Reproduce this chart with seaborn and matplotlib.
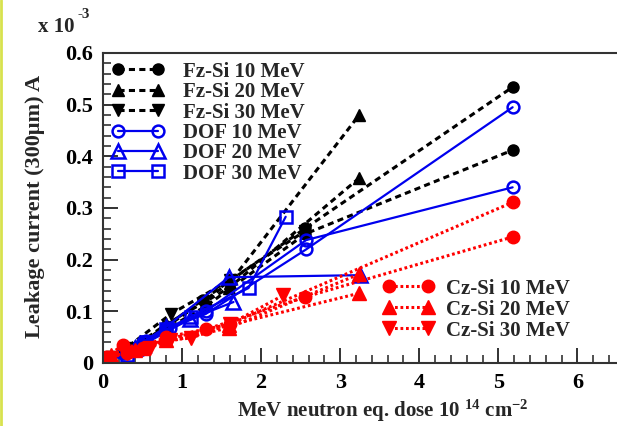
import matplotlib
matplotlib.use("Agg")
import matplotlib.pyplot as plt
import numpy as np
import pandas as pd
import seaborn as sns
from matplotlib.ticker import MultipleLocator
from matplotlib.lines import Line2D

# ---- measured leakage current (x 1e-3 A) versus 1 MeV neutron equivalent dose (1e14 cm^-2) ----
fz10_a_dose = [0.05, 0.25, 0.5, 0.8, 1.26, 2.56, 5.18]
fz10_a_curr = [0.010, 0.025, 0.040, 0.072, 0.122, 0.261, 0.534]
fz10_b_dose = [0.05, 0.25, 0.5, 0.8, 1.3, 2.56, 5.18]
fz10_b_curr = [0.008, 0.020, 0.035, 0.065, 0.110, 0.250, 0.412]

fz20_a_dose = [0.1, 0.4, 0.8, 1.6, 3.24]
fz20_a_curr = [0.010, 0.030, 0.070, 0.155, 0.480]
fz20_b_dose = [0.1, 0.4, 0.8, 1.59, 3.24]
fz20_b_curr = [0.012, 0.032, 0.075, 0.145, 0.358]

fz30_dose = [0.1, 0.3, 0.86, 1.6, 2.55]
fz30_curr = [0.012, 0.030, 0.095, 0.160, 0.255]

dof10_a_dose = [0.05, 0.25, 0.5, 0.8, 1.3, 2.57, 5.18]
dof10_a_curr = [0.008, 0.020, 0.040, 0.065, 0.095, 0.220, 0.495]
dof10_b_dose = [0.05, 0.3, 0.55, 0.85, 1.3, 2.57, 5.18]
dof10_b_curr = [0.010, 0.022, 0.042, 0.068, 0.100, 0.238, 0.340]

dof20_a_dose = [0.1, 0.4, 0.8, 1.59, 3.25]
dof20_a_curr = [0.010, 0.030, 0.070, 0.166, 0.170]
dof20_b_dose = [0.1, 0.5, 1.1, 1.65]
dof20_b_curr = [0.008, 0.035, 0.085, 0.118]

dof30_dose = [0.05, 0.3, 0.55, 0.8, 1.11, 1.84, 2.31]
dof30_curr = [0.005, 0.015, 0.040, 0.065, 0.090, 0.145, 0.283]

cz10_a_dose = [0.05, 0.25, 0.5, 0.8, 1.3, 2.56, 5.18]
cz10_a_curr = [0.012, 0.035, 0.030, 0.045, 0.065, 0.128, 0.244]
cz10_b_dose = [0.05, 0.3, 0.8, 1.6, 5.18]
cz10_b_curr = [0.010, 0.020, 0.050, 0.075, 0.311]

cz20_a_dose = [0.1, 0.4, 0.8, 1.59, 3.24]
cz20_a_curr = [0.012, 0.025, 0.045, 0.073, 0.135]
cz20_b_dose = [0.1, 0.5, 1.59, 3.24]
cz20_b_curr = [0.015, 0.030, 0.068, 0.172]

cz30_dose = [0.1, 0.3, 0.6, 0.85, 1.11, 1.6, 2.28]
cz30_curr = [0.010, 0.020, 0.030, 0.045, 0.048, 0.075, 0.131]

x_ticks = [0, 1, 2, 3, 4, 5, 6]
x_tick_labels = ["0", "1", "2", "3", "4", "5", "6"]
y_ticks = [0, 0.1, 0.2, 0.3, 0.4, 0.5, 0.6]
y_tick_labels = ["0", "0.1", "0.2", "0.3", "0.4", "0.5", "0.6"]

runs = [
    ("Fz-Si 10 MeV", "a", fz10_a_dose, fz10_a_curr),
    ("Fz-Si 10 MeV", "b", fz10_b_dose, fz10_b_curr),
    ("Fz-Si 20 MeV", "a", fz20_a_dose, fz20_a_curr),
    ("Fz-Si 20 MeV", "b", fz20_b_dose, fz20_b_curr),
    ("Fz-Si 30 MeV", "a", fz30_dose, fz30_curr),
    ("DOF 10 MeV", "a", dof10_a_dose, dof10_a_curr),
    ("DOF 10 MeV", "b", dof10_b_dose, dof10_b_curr),
    ("DOF 20 MeV", "a", dof20_a_dose, dof20_a_curr),
    ("DOF 20 MeV", "b", dof20_b_dose, dof20_b_curr),
    ("DOF 30 MeV", "a", dof30_dose, dof30_curr),
    ("Cz-Si 10 MeV", "a", cz10_a_dose, cz10_a_curr),
    ("Cz-Si 10 MeV", "b", cz10_b_dose, cz10_b_curr),
    ("Cz-Si 20 MeV", "a", cz20_a_dose, cz20_a_curr),
    ("Cz-Si 20 MeV", "b", cz20_b_dose, cz20_b_curr),
    ("Cz-Si 30 MeV", "a", cz30_dose, cz30_curr),
]
rows = []
for name, run, xs, ys in runs:
    for xv, yv in zip(xs, ys):
        rows.append({"series": name, "run": run, "dose": xv, "current": yv})
df = pd.DataFrame(rows)

sns.set_style("ticks")
plt.rcParams["font.family"] = ["Liberation Serif", "DejaVu Serif"]
plt.rcParams["font.weight"] = "bold"
plt.rcParams["axes.labelweight"] = "bold"
plt.rcParams["mathtext.fontset"] = "custom"
plt.rcParams["mathtext.rm"] = "Liberation Serif:bold"
plt.rcParams["mathtext.default"] = "rm"

FS = 15

fig = plt.figure(figsize=(6.17, 4.26), dpi=100)
ax = fig.add_axes([103 / 617, 1 - 363 / 426, 514 / 617, 310 / 426])

black_dash = (0, (2.0, 1.4))
red_dot = (0, (0.9, 0.9))

styles = {
    "Fz-Si 10 MeV": dict(color="black", marker="o", ls=black_dash, lw=2.2, ms=8, mfc="black", mec="black", mew=1),
    "Fz-Si 20 MeV": dict(color="black", marker="^", ls=black_dash, lw=2.2, ms=9, mfc="black", mec="black", mew=1),
    "Fz-Si 30 MeV": dict(color="black", marker="v", ls=black_dash, lw=2.2, ms=9, mfc="black", mec="black", mew=1),
    "DOF 10 MeV": dict(color="#0000ee", marker="o", ls="-", lw=1.6, ms=8.5, mfc="none", mec="#0000ee", mew=1.8),
    "DOF 20 MeV": dict(color="#0000ee", marker="^", ls="-", lw=1.6, ms=10, mfc="none", mec="#0000ee", mew=1.8),
    "DOF 30 MeV": dict(color="#0000ee", marker="s", ls="-", lw=1.6, ms=9, mfc="none", mec="#0000ee", mew=1.8),
    "Cz-Si 10 MeV": dict(color="#ff0000", marker="o", ls=red_dot, lw=2.2, ms=9, mfc="#ff0000", mec="#ff0000", mew=1),
    "Cz-Si 20 MeV": dict(color="#ff0000", marker="^", ls=red_dot, lw=2.2, ms=10, mfc="#ff0000", mec="#ff0000", mew=1),
    "Cz-Si 30 MeV": dict(color="#ff0000", marker="v", ls=red_dot, lw=2.2, ms=10, mfc="#ff0000", mec="#ff0000", mew=1),
}

handles = {}
for name, st in styles.items():
    sub = df[df["series"] == name]
    n0 = len(ax.lines)
    st = dict(st)
    color = st.pop("color")
    sns.lineplot(data=sub, x="dose", y="current", units="run", estimator=None,
                 sort=False, legend=False, ax=ax, color=color,
                 linestyle=st.pop("ls"), linewidth=st.pop("lw"),
                 marker=st.pop("marker"), markersize=st.pop("ms"),
                 markerfacecolor=st.pop("mfc"), markeredgecolor=st.pop("mec"),
                 markeredgewidth=st.pop("mew"))
    handles[name] = ax.lines[n0]

ax.set_xlim(0, 6.5)
ax.set_ylim(0, 0.6)
ax.set_xticks(x_ticks, x_tick_labels)
ax.set_yticks(y_ticks, y_tick_labels)
ax.xaxis.set_minor_locator(MultipleLocator(0.2))
ax.yaxis.set_minor_locator(MultipleLocator(0.02))
ax.tick_params(which="major", direction="in", length=11, width=1.3, labelsize=16,
               pad=7, top=False, right=False, colors="#222222", labelcolor="black")
ax.tick_params(which="minor", direction="in", length=5.5, width=1.1,
               top=False, right=False, colors="#222222")
for side in ("left", "bottom", "top"):
    ax.spines[side].set_linewidth(1.5)
    ax.spines[side].set_color("#333333")
ax.spines["right"].set_visible(False)

ax.set_xlabel("MeV neutron eq. dose 10 $^{14}$ cm$^{-2}$", fontsize=FS)
ax.xaxis.set_label_coords(0.545, -0.113)
ax.set_ylabel("Leakage current (300\u03bcm) A", fontsize=16)
ax.yaxis.set_label_coords(-0.113, 0.505)

fig.text(38 / 617, 1 - 27 / 426, "x 10", fontsize=FS, va="center", ha="left")
fig.text(78 / 617, 1 - 15 / 426, "-3", fontsize=FS * 0.72, va="center", ha="left")

upper_names = ["Fz-Si 10 MeV", "Fz-Si 20 MeV", "Fz-Si 30 MeV",
               "DOF 10 MeV", "DOF 20 MeV", "DOF 30 MeV"]
lower_names = ["Cz-Si 10 MeV", "Cz-Si 20 MeV", "Cz-Si 30 MeV"]

leg1 = ax.legend([handles[n] for n in upper_names], upper_names, loc="upper left",
                 bbox_to_anchor=(0.0175, 0.972), frameon=False, numpoints=2,
                 fontsize=FS, handlelength=2.5, handletextpad=0.9,
                 labelspacing=0.02, borderpad=0, borderaxespad=0)
ax.add_artist(leg1)
ax.legend([handles[n] for n in lower_names], lower_names, loc="upper left",
          bbox_to_anchor=(0.545, 0.272), frameon=False, numpoints=2,
          fontsize=FS, handlelength=2.45, handletextpad=0.55,
          labelspacing=0.05, borderpad=0, borderaxespad=0)

fig.add_artist(Line2D([0.002, 0.002], [0, 1], transform=fig.transFigure,
                      color="#d8e24e", lw=2))

fig.savefig("out.png", dpi=100)
